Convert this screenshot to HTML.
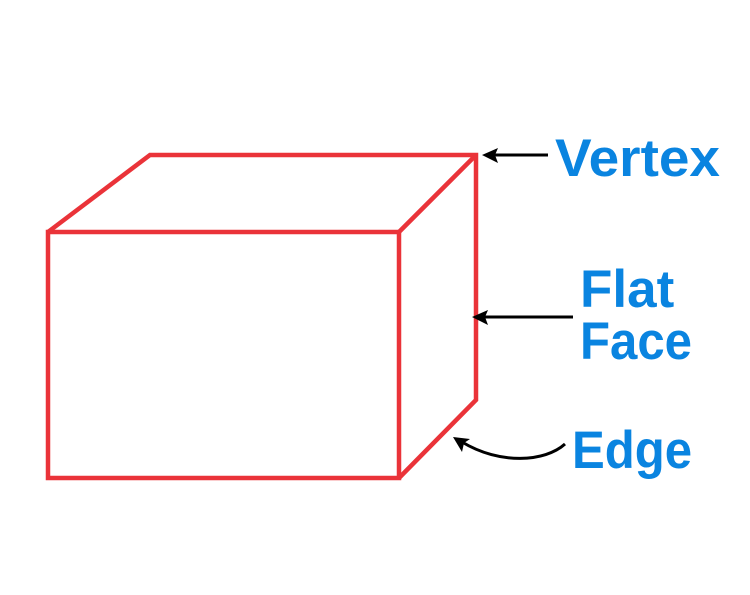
<!DOCTYPE html>
<html><head><style>
body{margin:0;background:#fff;}
svg{display:block}
text{font-family:"Liberation Sans",sans-serif;font-weight:bold;fill:#0a84e0;font-size:53px}
</style></head><body>
<svg width="750" height="595" viewBox="0 0 750 595">
<g fill="none" stroke="#ea3339" stroke-width="4.5" stroke-linejoin="miter">
<rect x="48" y="232" width="351" height="246"/>
<polyline points="48,232 150,155 476,155 476,400 399,478"/>
<line x1="399" y1="232" x2="476" y2="155"/>
</g>
<g stroke="#000" stroke-width="3" fill="none">
<line x1="548" y1="155" x2="492" y2="155"/>
<line x1="573" y1="317" x2="482" y2="317"/>
<path d="M565,444 C545,462 500,465 462,442"/>
</g>
<g fill="#000">
<polygon points="482,155 498,148 495,155 498,163"/>
<polygon points="472,317 488,310 485,317 488,325"/>
<polygon points="453,437 470,439 464,443 462,452"/>
</g>
<text x="555" y="176" textLength="165" lengthAdjust="spacingAndGlyphs">Vertex</text>
<text x="580" y="307">Flat</text>
<text x="580" y="359" textLength="112" lengthAdjust="spacingAndGlyphs">Face</text>
<text x="572" y="468" textLength="120" lengthAdjust="spacingAndGlyphs">Edge</text>
</svg>
</body></html>
